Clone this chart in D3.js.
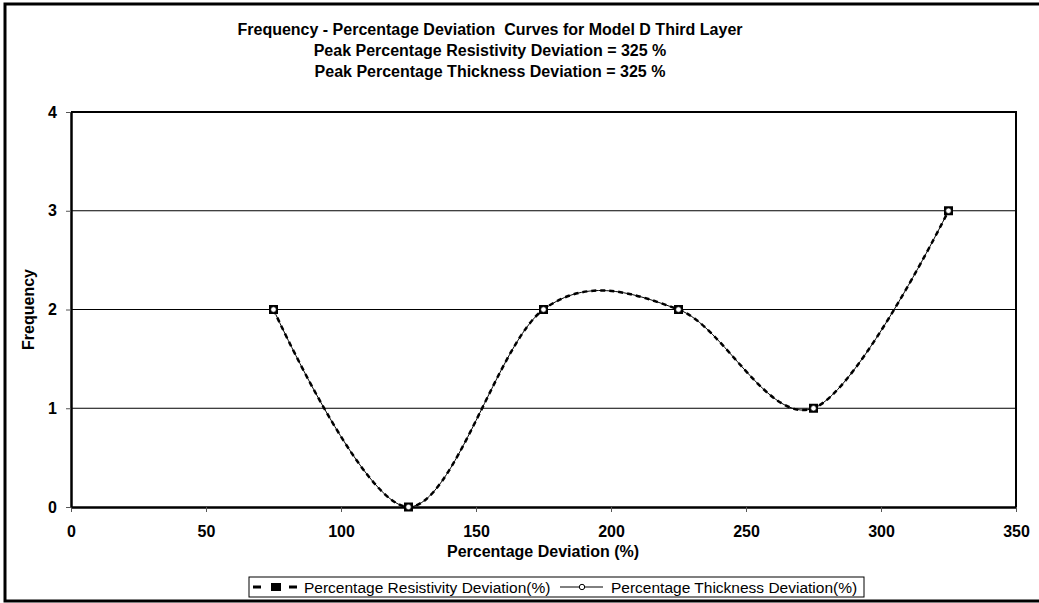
<!DOCTYPE html>
<html>
<head>
<meta charset="utf-8">
<script src="https://cdn.jsdelivr.net/npm/d3@7"></script>
<style>
    body { margin: 0; background: #fff; }
    svg { display: block; }
    text { white-space: pre; }
</style>
</head>
<body>
<div id="chart"></div>
<script>
// values
const deviation = [75, 125, 175, 225, 275, 325];
const resistivityFreq = [2, 0, 2, 2, 1, 3];
const thicknessFreq = [2, 0, 2, 2, 1, 3];
const xTicks = [0, 50, 100, 150, 200, 250, 300, 350];
const yTicks = [0, 1, 2, 3, 4];
const titleLines = [
    "Frequency - Percentage Deviation  Curves for Model D Third Layer",
    "Peak Percentage Resistivity Deviation = 325 %",
    "Peak Percentage Thickness Deviation = 325 %"
];

const width = 1039, height = 603;
const margin = {top: 112, right: 23, bottom: 96, left: 71};
const font = "Arial, 'Liberation Sans', sans-serif";

const svg = d3.select("#chart")
    .append("svg")
    .attr("width", width)
    .attr("height", height)
    .attr("font-family", font);

// outer chart border
svg.append("rect")
    .attr("x", 5).attr("y", 4)
    .attr("width", width + 10).attr("height", 597)
    .attr("fill", "none")
    .attr("stroke", "#000")
    .attr("stroke-width", 3);

const x = d3.scaleLinear()
    .domain([0, 350])
    .range([margin.left, width - margin.right]);

const y = d3.scaleLinear()
    .domain([0, 4])
    .range([height - margin.bottom, margin.top]);

// gridlines
svg.append("g")
    .selectAll("line")
    .data(yTicks.slice(1, -1))
    .join("line")
    .attr("x1", x(0)).attr("x2", x(350))
    .attr("y1", d => y(d)).attr("y2", d => y(d))
    .attr("stroke", "#000")
    .attr("stroke-width", 1);

// plot frame (top + right)
svg.append("path")
    .attr("d", `M${x(0)},${y(4)}H${x(350)}V${y(0)}`)
    .attr("fill", "none")
    .attr("stroke", "#000")
    .attr("stroke-width", 2);

const xAxis = g => g
    .attr("transform", `translate(0,${y(0)})`)
    .call(d3.axisBottom(x).tickValues(xTicks).tickSize(5).tickPadding(14).tickSizeOuter(0))
    .call(g => g.select(".domain").attr("stroke-width", 2.5))
    .call(g => g.selectAll(".tick line").attr("stroke", "#555"));

const yAxis = g => g
    .attr("transform", `translate(${x(0)},0)`)
    .call(d3.axisLeft(y).tickValues(yTicks).tickFormat(d3.format("d")).tickSize(5).tickPadding(9).tickSizeOuter(0))
    .call(g => g.select(".domain").attr("stroke-width", 2.5))
    .call(g => g.selectAll(".tick line").attr("stroke", "#555"));

svg.append("g").call(xAxis)
    .attr("font-size", 16).attr("font-weight", "bold")
    .attr("font-family", font);
svg.append("g").call(yAxis)
    .attr("font-size", 16).attr("font-weight", "bold")
    .attr("font-family", font);

// titles
svg.append("g")
    .attr("text-anchor", "middle")
    .attr("font-size", 16)
    .attr("font-weight", "bold")
    .selectAll("text")
    .data(titleLines)
    .join("text")
    .attr("x", 490)
    .attr("y", (d, i) => 35 + i * 21)
    .text(d => d);

svg.append("text")
    .attr("x", 543).attr("y", 557)
    .attr("text-anchor", "middle")
    .attr("font-size", 16).attr("font-weight", "bold")
    .text("Percentage Deviation (%)");

svg.append("text")
    .attr("transform", `translate(34,${(y(0) + y(4)) / 2}) rotate(-90)`)
    .attr("text-anchor", "middle")
    .attr("font-size", 16).attr("font-weight", "bold")
    .text("Frequency");

// Excel-style smoothed lines
const line = d3.line()
    .x(d => x(d[0]))
    .y(d => y(d[1]))
    .curve(d3.curveCardinal.tension(0));

const resData = deviation.map((d, i) => [d, resistivityFreq[i]]);
const thkData = deviation.map((d, i) => [d, thicknessFreq[i]]);

svg.append("path")
    .datum(resData)
    .attr("d", line)
    .attr("fill", "none")
    .attr("stroke", "#000")
    .attr("stroke-width", 2.5)
    .attr("stroke-dasharray", "5,4");

svg.append("path")
    .datum(thkData)
    .attr("d", line)
    .attr("fill", "none")
    .attr("stroke", "#000")
    .attr("stroke-width", 1);

svg.append("g")
    .selectAll("rect")
    .data(resData)
    .join("rect")
    .attr("x", d => x(d[0]) - 4.5)
    .attr("y", d => y(d[1]) - 4.5)
    .attr("width", 9).attr("height", 9)
    .attr("fill", "#000");

svg.append("g")
    .selectAll("circle")
    .data(thkData)
    .join("circle")
    .attr("cx", d => x(d[0]))
    .attr("cy", d => y(d[1]))
    .attr("r", 2.7)
    .attr("fill", "#fff")
    .attr("stroke", "#000")
    .attr("stroke-width", 0.6);

// legend
const legend = svg.append("g").attr("transform", "translate(249,577)");
legend.append("rect")
    .attr("width", 615).attr("height", 20)
    .attr("fill", "#fff")
    .attr("stroke", "#000")
    .attr("stroke-width", 1);
legend.append("line")
    .attr("x1", 4).attr("x2", 48).attr("y1", 10).attr("y2", 10)
    .attr("stroke", "#000").attr("stroke-width", 3)
    .attr("stroke-dasharray", "8,10");
legend.append("rect")
    .attr("x", 22).attr("y", 6).attr("width", 10).attr("height", 8)
    .attr("fill", "#000");
legend.append("text")
    .attr("x", 55).attr("y", 16)
    .attr("font-size", 15.5)
    .text("Percentage Resistivity Deviation(%)");
legend.append("line")
    .attr("x1", 311).attr("x2", 354).attr("y1", 10).attr("y2", 10)
    .attr("stroke", "#000").attr("stroke-width", 1);
legend.append("circle")
    .attr("cx", 333).attr("cy", 10).attr("r", 2.7)
    .attr("fill", "#fff").attr("stroke", "#000");
legend.append("text")
    .attr("x", 362).attr("y", 16)
    .attr("font-size", 15.5)
    .text("Percentage Thickness Deviation(%)");
</script>
</body>
</html>
